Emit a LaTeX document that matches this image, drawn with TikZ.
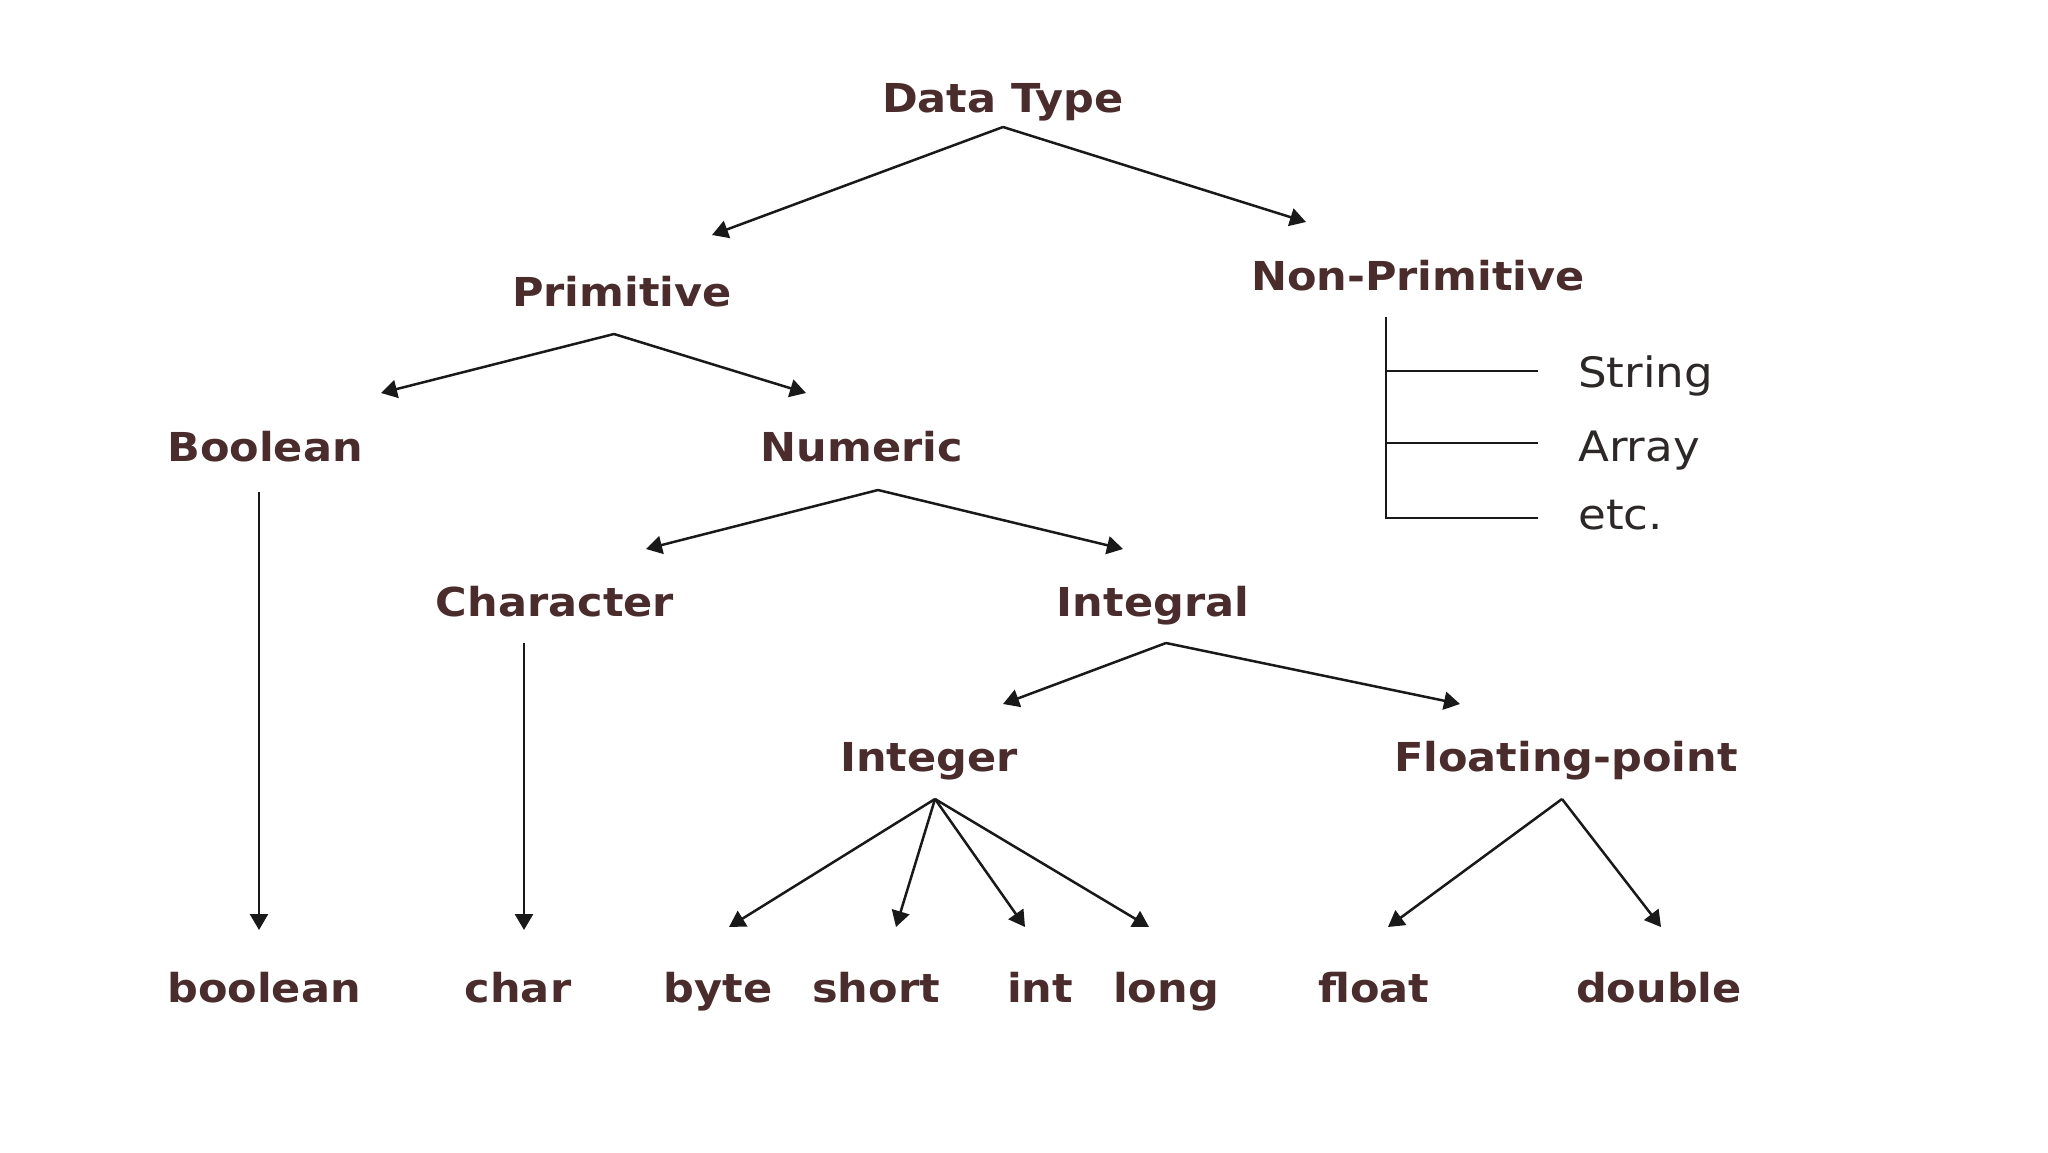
\documentclass[tikz,border=0pt]{standalone}
\usepackage{fontspec}
\setmainfont{DejaVu Sans}[FakeStretch=1.08]
\usetikzlibrary{arrows.meta}
\definecolor{txtc}{RGB}{74,44,44}
\definecolor{subc}{RGB}{45,40,40}
\definecolor{linec}{RGB}{25,25,25}
\begin{document}
\begin{tikzpicture}[x=1bp,y=-1bp,
  lbl/.style={anchor=base,inner sep=0pt,text=txtc,font=\fontsize{40}{44}\selectfont\bfseries},
  sub/.style={anchor=base west,inner sep=0pt,text=subc,font=\fontsize{42}{46}\selectfont},
  arr/.style={draw=linec,line width=2.5bp,-{Triangle[length=16bp,width=18bp]}},
  ln/.style={draw=linec,line width=2.5bp}]
\path[use as bounding box,fill=white] (0,0) rectangle (2048,1152);
% nodes
\node[lbl] (dt) at (1003,112) {Data Type};
\node[lbl] (prim) at (622,306) {Primitive};
\node[lbl] (nonprim) at (1418,290) {Non-Primitive};
\node[lbl] (bool) at (265,461) {Boolean};
\node[lbl] (num) at (862,461) {Numeric};
\node[lbl] (chr) at (555,616) {Character};
\node[lbl] (integral) at (1153,616) {Integral};
\node[lbl] (integer) at (929,771) {Integer};
\node[lbl] (fp) at (1566,771) {Floating-point};
\node[lbl] (tbool) at (264,1002) {boolean};
\node[lbl] (tchar) at (518,1002) {char};
\node[lbl] (tbyte) at (718,1002) {byte};
\node[lbl] (tshort) at (876,1002) {short};
\node[lbl] (tint) at (1040,1002) {int};
\node[lbl] (tlong) at (1166,1002) {long};
\node[lbl] (tfloat) at (1374,1002) {float};
\node[lbl] (tdouble) at (1659,1002) {double};
\node[sub] (str) at (1578,387) {String};
\node[sub] (array) at (1578,461) {Array};
\node[sub] (etc) at (1578,529) {etc.};
% connector coordinates
\coordinate (dt-o) at (1003,127);
\coordinate (dt-l) at (712,235);
\coordinate (dt-r) at (1306,222);
\coordinate (prim-o) at (614,334);
\coordinate (prim-l) at (381,393);
\coordinate (prim-r) at (806,393);
\coordinate (bool-o) at (259,492);
\coordinate (bool-t) at (259,930);
\coordinate (num-o) at (878,490);
\coordinate (num-l) at (646,549);
\coordinate (num-r) at (1123,549);
\coordinate (chr-o) at (524,643);
\coordinate (chr-t) at (524,930);
\coordinate (itg-o) at (1166,643);
\coordinate (itg-l) at (1003,704);
\coordinate (itg-r) at (1460,704);
\coordinate (int-o) at (935,799);
\coordinate (int-1) at (729,927);
\coordinate (int-2) at (896,927);
\coordinate (int-3) at (1025,927);
\coordinate (int-4) at (1149,927);
\coordinate (fp-o) at (1562,799);
\coordinate (fp-1) at (1388,927);
\coordinate (fp-2) at (1661,927);
\coordinate (np-top) at (1386,317);
\coordinate (np-a) at (1386,371);
\coordinate (np-b) at (1386,443);
\coordinate (np-c) at (1386,518);
\coordinate (np-ae) at (1538,371);
\coordinate (np-be) at (1538,443);
\coordinate (np-ce) at (1538,518);
% connectors
\draw[arr] (dt-o) -- (dt-l);
\draw[arr] (dt-o) -- (dt-r);
\draw[arr] (prim-o) -- (prim-l);
\draw[arr] (prim-o) -- (prim-r);
\draw[arr] (bool-o) -- (bool-t);
\draw[arr] (num-o) -- (num-l);
\draw[arr] (num-o) -- (num-r);
\draw[arr] (chr-o) -- (chr-t);
\draw[arr] (itg-o) -- (itg-l);
\draw[arr] (itg-o) -- (itg-r);
\draw[arr] (int-o) -- (int-1);
\draw[arr] (int-o) -- (int-2);
\draw[arr] (int-o) -- (int-3);
\draw[arr] (int-o) -- (int-4);
\draw[arr] (fp-o) -- (fp-1);
\draw[arr] (fp-o) -- (fp-2);
\draw[ln] (np-top) -- (np-c) -- (np-ce);
\draw[ln] (np-a) -- (np-ae);
\draw[ln] (np-b) -- (np-be);
\end{tikzpicture}
\end{document}
